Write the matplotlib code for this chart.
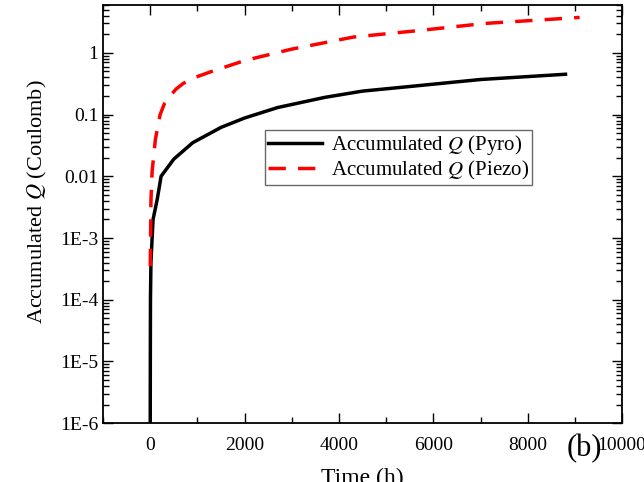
import numpy as np
import matplotlib
matplotlib.use("Agg")
import matplotlib.pyplot as plt
from matplotlib.ticker import LogLocator, MultipleLocator, FuncFormatter

plt.rcParams['font.family'] = ['Liberation Serif', 'DejaVu Serif']
plt.rcParams['mathtext.fontset'] = 'stix'

# accumulated charge
pyro_t = [0, 2, 5, 15, 40, 60, 150, 230, 500, 900, 1500, 2000, 2700, 3700, 4500, 5600, 7000, 8800]
pyro_q = [1e-6, 1e-5, 1e-4, 4e-4, 1e-3, 2e-3, 4.3e-3, 0.01, 0.019, 0.035, 0.062, 0.088, 0.13, 0.19, 0.24, 0.29, 0.37, 0.45]

piezo_t = [0, 8, 15, 40, 110, 210, 300, 420, 550, 700, 950, 1270, 2000, 3000, 4300, 5700, 7100, 8100, 9100]
piezo_q = [3.5e-4, 1e-3, 4e-3, 0.012, 0.04, 0.1, 0.15, 0.2, 0.26, 0.32, 0.4, 0.49, 0.75, 1.15, 1.8, 2.3, 3.0, 3.35, 3.75]

ytick_labels = {1: '1', 0.1: '0.1', 0.01: '0.01', 1e-3: '1E-3', 1e-4: '1E-4', 1e-5: '1E-5', 1e-6: '1E-6'}

fig = plt.figure(figsize=(6.44, 4.82), dpi=100)

ax = fig.add_axes([0.160, 0.122, 0.806, 0.868])

ax.plot(pyro_t, pyro_q, color='black', lw=2.5, label=r'Accumulated $\mathit{Q}$ (Pyro)')
ax.plot(piezo_t, piezo_q, color='red', lw=2.5, dashes=(5, 3.5), label=r'Accumulated $\mathit{Q}$ (Piezo)')

ax.set_yscale('log')
ax.set_xlim(-1000, 10000)
ax.set_ylim(1e-6, 6)
ax.xaxis.set_major_locator(MultipleLocator(2000))
ax.xaxis.set_minor_locator(MultipleLocator(1000))
ax.yaxis.set_major_locator(LogLocator(base=10, numticks=20))
ax.yaxis.set_minor_locator(LogLocator(base=10, subs=np.arange(2, 10), numticks=20))
ax.yaxis.set_major_formatter(FuncFormatter(lambda v, p: ytick_labels.get(round(v, 8), '')))

ax.tick_params(which='both', direction='in', top=True, right=True, labelsize=14, width=1)
ax.tick_params(which='major', length=7)
ax.tick_params(which='minor', length=4)
ax.tick_params(axis='x', pad=10)
for s in ax.spines.values():
    s.set_linewidth(1.3)

ax.set_ylabel(r'Accumulated $\mathit{Q}$ (Coulomb)', fontsize=16)
ax.yaxis.set_label_coords(-0.105, 0.53)
ax.set_xlabel('Time (h)', fontsize=17, labelpad=10)

leg = ax.legend(loc='upper left', bbox_to_anchor=(0.312, 0.70), fontsize=15, frameon=True,
                fancybox=False, edgecolor='#444444', handlelength=2.6, borderpad=0.15,
                labelspacing=0.05, handletextpad=0.4, borderaxespad=0)
leg.get_frame().set_linewidth(1.0)

fig.text(0.908, 0.070, '(b)', fontsize=22, ha='center', va='center')

fig.savefig('out.png', dpi=100)
